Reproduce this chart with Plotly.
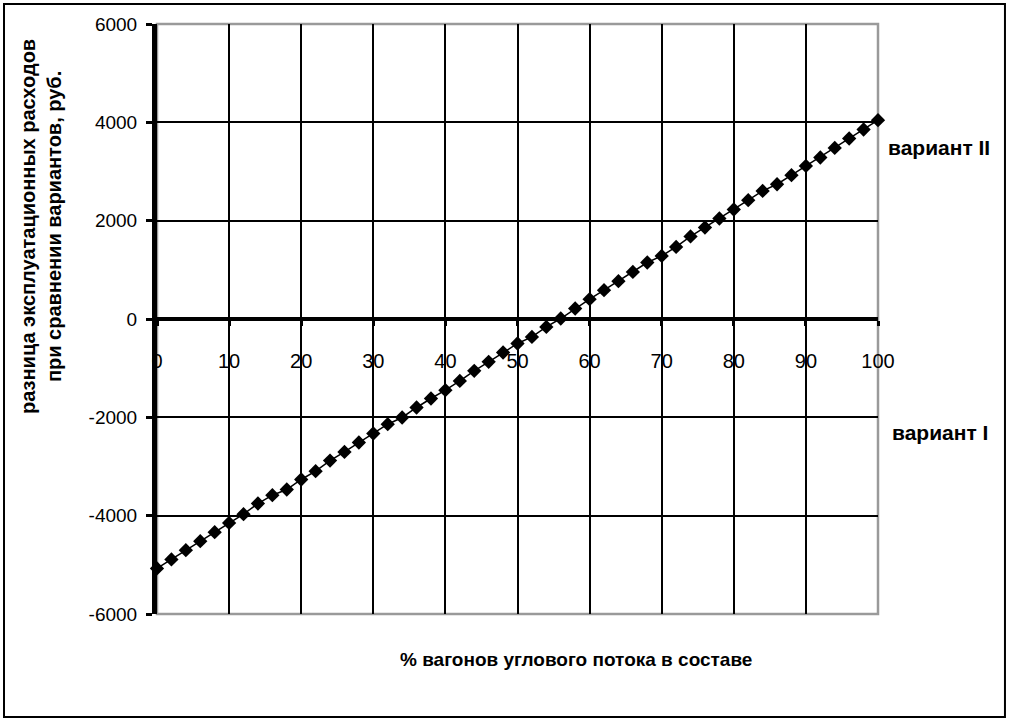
import plotly.graph_objects as go

# ---- data ----
pct = list(range(0, 101, 2))
diff = [-5074, -4891, -4702, -4519, -4336, -4147, -3970, -3753, -3584, -3468,
        -3264, -3095, -2880, -2703, -2512, -2329, -2140, -2003, -1800, -1617,
        -1448, -1259, -1055, -872, -681, -498, -364, -161, 10, 214,
        403, 586, 769, 958, 1149, 1283, 1466, 1680, 1861, 2044,
        2227, 2416, 2605, 2741, 2925, 3114, 3285, 3480, 3671, 3854, 4043]

x_ticks = list(range(0, 101, 10))
y_ticks = [-6000, -4000, -2000, 0, 2000, 4000, 6000]
y_tick_labels = ["-6000", "-4000", "-2000", "0", "2000", "4000", "6000"]

x_title = "% вагонов углового потока в составе"
y_title = "разница эксплуатационных расходов<br>при сравнении вариантов, руб."
label_top = "вариант II"
label_bottom = "вариант I"

NARROW = "Liberation Sans Narrow, Arial Narrow, Liberation Sans, Arial, sans-serif"
SANS = "Liberation Sans, Arial, sans-serif"

fig = go.Figure()
fig.add_trace(go.Scatter(
    x=pct, y=diff, mode="lines+markers",
    line=dict(color="black", width=1.5),
    marker=dict(symbol="diamond", size=11, color="black"),
    cliponaxis=False, showlegend=False,
))

fig.update_layout(
    width=1010, height=722,
    margin=dict(l=157, r=132, t=24, b=108),
    paper_bgcolor="white", plot_bgcolor="white",
    xaxis=dict(
        range=[0, 100], tickvals=x_ticks,
        showgrid=True, gridcolor="black", gridwidth=2,
        zeroline=False,
        showline=True, linecolor="black", linewidth=4,
        anchor="free", position=0.5,
        ticks="outside", ticklen=5, tickwidth=3, tickcolor="black",
        ticklabelstandoff=18,
        tickfont=dict(family=NARROW, size=20, color="black"),
    ),
    yaxis=dict(
        range=[-6000, 6000], tickvals=y_ticks, ticktext=y_tick_labels,
        showgrid=True, gridcolor="black", gridwidth=2,
        zeroline=False,
        showline=True, linecolor="black", linewidth=5,
        ticks="outside", ticklen=6, tickwidth=3, tickcolor="black",
        ticklabelstandoff=5,
        tickfont=dict(family=SANS, size=19, color="black"),
    ),
    shapes=[
        dict(type="rect", xref="paper", yref="paper", x0=0, x1=1, y0=0, y1=1,
             line=dict(color="#9a9a9a", width=2.5), layer="between"),
        dict(type="rect", xref="paper", yref="paper",
             x0=-0.2122, x1=1.1761, y0=-0.1746, y1=1.0339,
             line=dict(color="black", width=2), layer="above"),
    ],
    annotations=[
        dict(text=y_title, xref="paper", yref="paper", x=-0.1609, y=0.6576,
             xanchor="center", yanchor="middle", textangle=-90, showarrow=False,
             font=dict(family=SANS, size=20, color="black", weight="bold")),
        dict(text=x_title, xref="paper", yref="paper", x=0.5811, y=-0.0763,
             xanchor="center", yanchor="middle", showarrow=False,
             font=dict(family=NARROW, size=19, color="black", weight="bold")),
        dict(text=label_top, xref="paper", yref="paper", x=1.158, y=0.7915,
             xanchor="right", yanchor="middle", showarrow=False,
             font=dict(family=NARROW, size=21, color="black", weight="bold")),
        dict(text=label_bottom, xref="paper", yref="paper", x=1.155, y=0.3068,
             xanchor="right", yanchor="middle", showarrow=False,
             font=dict(family=NARROW, size=21, color="black", weight="bold")),
    ],
)

fig.write_html("out.html", config={"displayModeBar": False},
               post_script="document.body.style.margin='0px';")
